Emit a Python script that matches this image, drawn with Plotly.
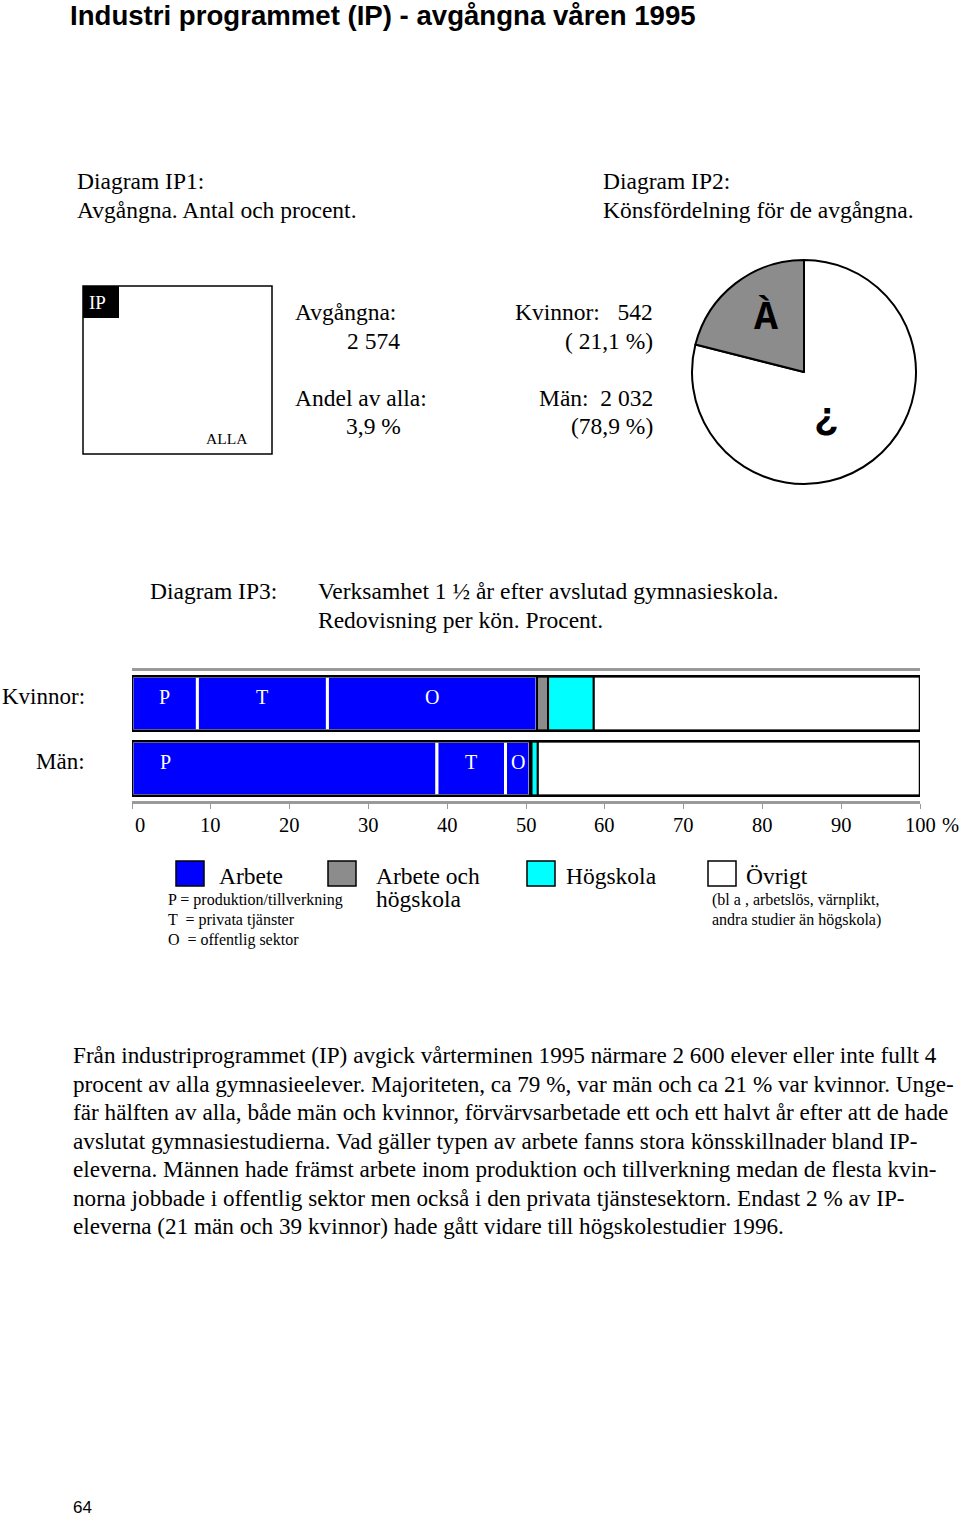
import plotly.graph_objects as go

W, H = 960, 1518
def px(x): return x / W
def py(y): return 1 - y / H

# ---------------- data ----------------
genders = ["Kvinnor", "Män"]
segments = ["P", "T", "O", "Arbete och högskola", "Högskola", "Övrigt"]
kvinnor_vals = [8.3, 16.5, 26.6, 1.4, 5.8, 41.4]
man_vals = [38.7, 8.7, 3.1, 0.2, 0.8, 48.5]
seg_colors = ["#0000FF", "#0000FF", "#0000FF", "#8C8C8C", "#00FFFF", "#FFFFFF"]
seg_labels = ["P", "T", "O", "", "", ""]

pie_labels = ["Män", "Kvinnor"]
pie_values = [2032, 542]
pie_colors = ["#FFFFFF", "#8C8C8C"]

x_ticks = [0, 10, 20, 30, 40, 50, 60, 70, 80, 90, 100]
x_ticktext = ["0", "10", "20", "30", "40", "50", "60", "70", "80", "90", "100"]

paragraph = [
    "Från industriprogrammet (IP) avgick vårterminen 1995 närmare 2 600 elever eller inte fullt 4",
    "procent av alla gymnasieelever. Majoriteten, ca 79 %, var män och ca 21 % var kvinnor. Unge-",
    "fär hälften av alla, både män och kvinnor, förvärvsarbetade ett och ett halvt år efter att de hade",
    "avslutat gymnasiestudierna. Vad gäller typen av arbete fanns stora könsskillnader bland IP-",
    "eleverna. Männen hade främst arbete inom produktion och tillverkning medan de flesta kvin-",
    "norna jobbade i offentlig sektor men också i den privata tjänstesektorn. Endast 2 % av IP-",
    "eleverna (21 män och 39 kvinnor) hade gått vidare till högskolestudier 1996.",
]

SERIF = "Liberation Serif, Times New Roman, serif"
SANS = "Liberation Sans, Arial, sans-serif"
BIG = 23.5

fig = go.Figure()

# ---------------- bars ----------------
data_by_gender = {"Kvinnor": kvinnor_vals, "Män": man_vals}
annotations = []
for gi, g in enumerate(genders):
    vals = data_by_gender[g]
    base = 0
    for si, v in enumerate(vals):
        is_blue = si < 3
        fig.add_trace(go.Bar(
            y=[g], x=[v], base=[base], orientation="h",
            marker=dict(color=seg_colors[si],
                        line=dict(color="white" if is_blue else "black",
                                  width=3 if is_blue else 2)),
            showlegend=False, hoverinfo="skip", width=0.84,
        ))
        if seg_labels[si]:
            xpos = base + 4.3 if v > 20 and g == "Män" else base + v / 2
            annotations.append(dict(
                x=xpos, y=g, xref="x", yref="y", text=seg_labels[si],
                showarrow=False, yshift=7,
                font=dict(family=SERIF, size=20, color="white")))
        base += v
    # outline
    fig.add_trace(go.Bar(
        y=[g], x=[100], base=[0], orientation="h",
        marker=dict(color="rgba(0,0,0,0)", line=dict(color="black", width=2.5)),
        showlegend=False, hoverinfo="skip", width=0.84,
    ))
    annotations.append(dict(
        x=px(87), y=g, xref="paper", yref="y", text=g + ":", xanchor="right",
        showarrow=False, yshift=7, font=dict(family=SERIF, size=23, color="black")))

# tick labels (placed on the x axis scale)
for tv, tt in zip(x_ticks, x_ticktext):
    annotations.append(dict(
        x=tv, y=py(825), xref="x", yref="paper", text=tt, showarrow=False,
        xanchor="center", yanchor="middle", xshift=8 if tv == 0 else 0,
        font=dict(family=SERIF, size=20.5, color="black")))
annotations.append(dict(
    x=100, y=py(825), xref="x", yref="paper", text="%", showarrow=False,
    xanchor="center", yanchor="middle", xshift=30,
    font=dict(family=SERIF, size=20.5, color="black")))

# ---------------- pie ----------------
fig.add_trace(go.Pie(
    labels=pie_labels, values=pie_values, sort=False, direction="clockwise",
    rotation=0, marker=dict(colors=pie_colors, line=dict(color="black", width=2)),
    textinfo="none", hoverinfo="skip", showlegend=False,
    domain=dict(x=[px(692), px(916)], y=[py(484), py(260)]),
))

fig.update_layout(
    width=W, height=H, autosize=False,
    margin=dict(l=0, r=0, t=0, b=0, autoexpand=False),
    paper_bgcolor="white", plot_bgcolor="white",
    barmode="overlay", bargap=0.15, showlegend=False,
    xaxis=dict(domain=[px(132), px(920)], range=[0, 100], tickvals=x_ticks,
               showticklabels=False, showgrid=False, zeroline=False,
               showline=True, linecolor="#9a9a9a", linewidth=3, mirror=True,
               ticks="outside", ticklen=5, tickcolor="#9a9a9a", tickwidth=1,
               fixedrange=True, automargin=False),
    yaxis=dict(domain=[py(801), py(671)], categoryorder="array",
               categoryarray=genders[::-1], showticklabels=False,
               showgrid=False, zeroline=False, showline=False, fixedrange=True,
               automargin=False),
    font=dict(family=SERIF, color="black"),
)

def txt(x, y, s, size=BIG, family=SERIF, anchor="left", color="black", bold=False):
    annotations.append(dict(
        x=px(x), y=py(y), xref="paper", yref="paper", text=("<b>%s</b>" % s) if bold else s,
        xanchor=anchor, yanchor="middle", showarrow=False,
        font=dict(family=family, size=size, color=color)))

# title
txt(68, 16, "Industri programmet (IP) - avgångna våren 1995", size=27.6, family=SANS, bold=True)

txt(75, 181, "Diagram IP1:")
txt(75, 210, "Avgångna. Antal och procent.")
txt(601, 181, "Diagram IP2:")
txt(601, 210, "Könsfördelning för de avgångna.")

# IP box
shapes = [
    dict(type="rect", xref="paper", yref="paper", x0=px(83), x1=px(272), y0=py(454), y1=py(286),
         line=dict(color="black", width=1.5), fillcolor="white"),
    dict(type="rect", xref="paper", yref="paper", x0=px(83), x1=px(119), y0=py(318), y1=py(286),
         line=dict(width=0), fillcolor="black"),
]
txt(87, 302, "IP", size=19, color="white")
txt(250, 438, "ALLA", size=15.5, anchor="right")

txt(293, 312, "Avgångna:")
txt(402, 341, "2 574", anchor="right")
txt(293, 398, "Andel av alla:")
txt(403, 426, "3,9 %", anchor="right")
txt(655, 312, "Kvinnor:   542", anchor="right")
txt(655, 341, "( 21,1 %)", anchor="right")
txt(655, 398, "Män:  2 032", anchor="right")
txt(655, 426, "(78,9 %)", anchor="right")

# pie glyphs
txt(766, 318, "À", size=40, family="Liberation Mono, Courier New, monospace", anchor="center", bold=True)
txt(826, 420, "¿", size=40, family="Liberation Mono, Courier New, monospace", anchor="center", bold=True)

txt(148, 591, "Diagram IP3:")
txt(316, 591, "Verksamhet 1 ½ år efter avslutad gymnasieskola.")
txt(316, 620, "Redovisning per kön. Procent.")

# legend
for (x0, col) in [(176, "#0000FF"), (328, "#8C8C8C"), (527, "#00FFFF"), (708, "#FFFFFF")]:
    shapes.append(dict(type="rect", xref="paper", yref="paper", x0=px(x0), x1=px(x0 + 28),
                       y0=py(886), y1=py(861), line=dict(color="black", width=1.5), fillcolor=col))
txt(217, 876, "Arbete")
txt(166, 900, "P = produktion/tillverkning", size=16)
txt(166, 920, "T  = privata tjänster", size=16)
txt(166, 940, "O  = offentlig sektor", size=16)
txt(374, 876, "Arbete och")
txt(374, 899, "högskola")
txt(564, 876, "Högskola")
txt(744, 876, "Övrigt")
txt(710, 900, "(bl a , arbetslös, värnplikt,", size=16)
txt(710, 920, "andra studier än högskola)", size=16)

# paragraph
for i, line in enumerate(paragraph):
    txt(71, 1055 + i * 28.5, line, size=23.2)

txt(71, 1507, "64", size=17, family=SANS)

fig.update_layout(annotations=annotations, shapes=shapes)
fig.write_html(
    "out.html",
    config={"responsive": False, "displayModeBar": False},
    post_script="document.body.style.margin='0px';document.body.style.overflow='hidden';",
)
